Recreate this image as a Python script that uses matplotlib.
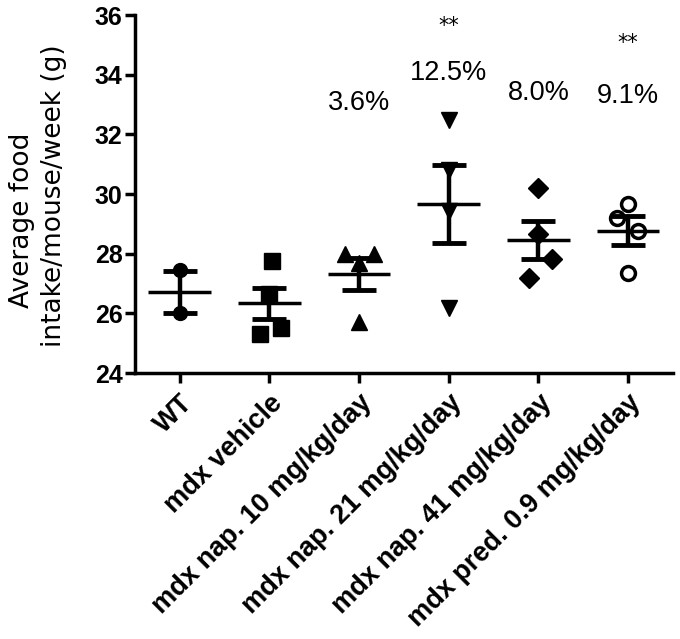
import numpy as np
import matplotlib
matplotlib.use("Agg")
import matplotlib.pyplot as plt

plt.rcParams['font.family'] = ['Liberation Sans', 'DejaVu Sans']

groups = ['WT', 'mdx vehicle', 'mdx nap. 10 mg/kg/day', 'mdx nap. 21 mg/kg/day',
          'mdx nap. 41 mg/kg/day', 'mdx pred. 0.9 mg/kg/day']

# individual mice (g/week)
wt = [27.45, 26.0]
vehicle = [27.76, 26.65, 25.3, 25.5]
nap10 = [28.0, 28.0, 27.7, 25.7]
nap21 = [32.47, 30.8, 29.45, 26.2]
nap41 = [30.22, 27.83, 27.2, 28.67]
pred = [29.68, 29.2, 28.77, 27.36]

# horizontal scatter spread of the points (like the original scatter plot)
jitter = [[0, 0], [0.03, 0, -0.11, 0.13], [-0.16, 0.17, 0, 0], [0, 0, 0, 0],
          [0, 0.15, -0.11, 0], [0, -0.12, 0.11, 0]]

# mean and SEM
means = [26.72, 26.35, 27.33, 29.68, 28.47, 28.77]
sems = [0.72, 0.52, 0.54, 1.31, 0.64, 0.48]

pct_labels = ['3.6%', '12.5%', '8.0%', '9.1%']
pct_pos = [2, 3, 4, 5]
pct_y = [33.04, 34.05, 33.38, 33.3]
star_pos = [3, 5]
star_y = [35.62, 35.05]

all_points = [wt, vehicle, nap10, nap21, nap41, pred]
markers = ['o', 's', '^', 'v', 'D', 'o']
sizes = [10, 11, 11, 11, 10, 10]

fig = plt.figure(figsize=(6.8, 6.39), dpi=100)
ax = fig.add_axes([0.1985, 0.416, 0.791, 0.5605])

for i, pts in enumerate(all_points):
    x = i + np.array(jitter[i])
    if i == 5:
        ax.plot(x, pts, linestyle='none', marker='o', ms=sizes[i], mfc='white',
                mec='black', mew=2.5, zorder=2)
    else:
        ax.plot(x, pts, linestyle='none', marker=markers[i], ms=sizes[i],
                color='black', zorder=2)

pos = np.arange(len(groups))
ax.errorbar(pos, means, yerr=sems, fmt='none', ecolor='black', elinewidth=3.2,
            capsize=12, capthick=3.5, zorder=3)
ax.hlines(means, pos - 0.35, pos + 0.35, colors='black', lw=2.5, zorder=3)

for p, y, t in zip(pct_pos, pct_y, pct_labels):
    ax.text(p, y, t, ha='center', va='center', fontsize=19.5)
for p, y in zip(star_pos, star_y):
    ax.text(p, y, '**', ha='center', va='center', fontsize=15, family='DejaVu Sans')

ax.set_xlim(-0.5, 5.5)
ax.set_ylim(24, 36)
ax.set_yticks(np.arange(24, 37, 2))
ax.set_xticks(pos)
ax.set_xticklabels(groups, rotation=45, ha='right', rotation_mode='anchor',
                   fontsize=19.5, fontweight='bold')
for lab in ax.get_yticklabels():
    lab.set_fontsize(18)
    lab.set_fontweight('bold')

ax.spines['top'].set_visible(False)
ax.spines['right'].set_visible(False)
ax.spines['left'].set_linewidth(2.5)
ax.spines['bottom'].set_linewidth(2.5)
ax.tick_params(axis='both', length=7, width=2.5, pad=2)
ax.tick_params(axis='x', pad=5)

# y axis title, two lines placed as in the original
fig.text(22 / 680, 1 - 220 / 639, 'Average food', rotation=90, ha='center',
         va='center', fontsize=19, family='DejaVu Sans')
fig.text(54 / 680, 1 - 196 / 639, 'intake/mouse/week (g)', rotation=90, ha='center',
         va='center', fontsize=19, family='DejaVu Sans')

fig.savefig('out.png', dpi=100)
